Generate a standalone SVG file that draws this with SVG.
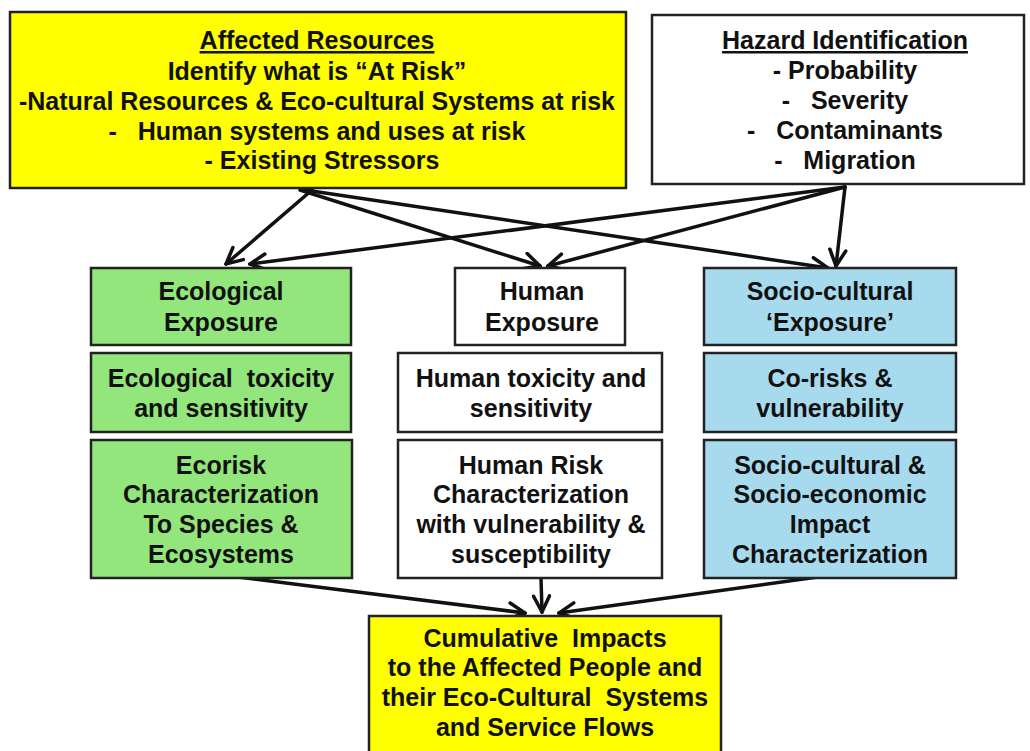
<svg xmlns="http://www.w3.org/2000/svg" width="1030" height="751" viewBox="0 0 1030 751">
<style>
  text { font-family: "Liberation Sans", Arial, sans-serif; font-weight: bold; font-size: 25px; fill: #111; text-anchor: middle; white-space: pre; }
  .box { stroke: #222; stroke-width: 2.5; }
  .yellow { fill: #FFFF00; }
  .white { fill: #FFFFFF; }
  .green { fill: #93E67B; }
  .blue { fill: url(#dots); }
  .conn { stroke: #111; stroke-width: 3.5; fill: none; marker-end: url(#chev); stroke-linecap: round; }
</style>
<defs>
  <pattern id="dots" width="4" height="4" patternUnits="userSpaceOnUse">
    <rect width="4" height="4" fill="#AADCF0"/>
    <circle cx="1" cy="1" r="0.6" fill="#8DC6DE"/>
    <circle cx="3" cy="3" r="0.6" fill="#9ED2E8"/>
  </pattern>
  <marker id="chev" viewBox="0 0 20 20" refX="18" refY="10" markerWidth="20" markerHeight="20" markerUnits="userSpaceOnUse" orient="auto">
    <path d="M2,2 L18,10 L2,18" fill="none" stroke="#111" stroke-width="3.5" stroke-linecap="round" stroke-linejoin="miter"/>
  </marker>
</defs>
<rect width="1030" height="751" fill="#FFFFFF"/>

<g id="connectors">
  <path class="conn" d="M312,190 L226,264"/>
  <path class="conn" d="M300,190 L540,266"/>
  <path class="conn" d="M305,190 L828,268"/>
  <path class="conn" d="M845,187 L250,264"/>
  <path class="conn" d="M845,187 L548,266"/>
  <path class="conn" d="M845,187 L836,266"/>
  <path class="conn" d="M230,576 L525,613"/>
  <path class="conn" d="M541,578 L542,612"/>
  <path class="conn" d="M825,576 L559,613"/>
</g>

<g id="affected-resources">
  <rect class="box yellow" x="10" y="12" width="616" height="176"/>
  <text x="317" y="49" text-decoration="underline">Affected Resources</text>
  <text x="317" y="80">Identify what is “At Risk”</text>
  <text x="317" y="110">-Natural Resources &amp; Eco-cultural Systems at risk</text>
  <text x="317" y="140">-   Human systems and uses at risk</text>
  <text x="322" y="169">- Existing Stressors</text>
</g>

<g id="hazard-identification">
  <rect class="box white" x="652" y="15" width="372" height="169"/>
  <text x="845" y="49" text-decoration="underline">Hazard Identification</text>
  <text x="845" y="79">- Probability</text>
  <text x="845" y="109">-   Severity</text>
  <text x="845" y="139">-   Contaminants</text>
  <text x="845" y="169">-   Migration</text>
</g>

<g id="ecological-exposure">
  <rect class="box green" x="91" y="268" width="260" height="77"/>
  <text x="221" y="300">Ecological</text>
  <text x="221" y="331">Exposure</text>
</g>
<g id="ecological-toxicity">
  <rect class="box green" x="91" y="353" width="260" height="79"/>
  <text x="221" y="387">Ecological  toxicity</text>
  <text x="221" y="417">and sensitivity</text>
</g>
<g id="ecorisk">
  <rect class="box green" x="91" y="440" width="261" height="138"/>
  <text x="221" y="474">Ecorisk</text>
  <text x="221" y="503">Characterization</text>
  <text x="221" y="533">To Species &amp;</text>
  <text x="221" y="563">Ecosystems</text>
</g>

<g id="human-exposure">
  <rect class="box white" x="455" y="268" width="170" height="77"/>
  <text x="542" y="300">Human</text>
  <text x="542" y="331">Exposure</text>
</g>
<g id="human-toxicity">
  <rect class="box white" x="398" y="353" width="264" height="79"/>
  <text x="531" y="387">Human toxicity and</text>
  <text x="531" y="417">sensitivity</text>
</g>
<g id="human-risk">
  <rect class="box white" x="398" y="440" width="264" height="138"/>
  <text x="531" y="474">Human Risk</text>
  <text x="531" y="503">Characterization</text>
  <text x="531" y="533">with vulnerability &amp;</text>
  <text x="531" y="563">susceptibility</text>
</g>

<g id="sociocultural-exposure">
  <rect class="box blue" x="704" y="268" width="252" height="77"/>
  <text x="830" y="300">Socio-cultural</text>
  <text x="830" y="331">‘Exposure’</text>
</g>
<g id="co-risks">
  <rect class="box blue" x="704" y="353" width="252" height="79"/>
  <text x="830" y="387">Co-risks &amp;</text>
  <text x="830" y="417">vulnerability</text>
</g>
<g id="socio-impact">
  <rect class="box blue" x="704" y="440" width="252" height="138"/>
  <text x="830" y="474">Socio-cultural &amp;</text>
  <text x="830" y="503">Socio-economic</text>
  <text x="830" y="533">Impact</text>
  <text x="830" y="563">Characterization</text>
</g>

<g id="cumulative-impacts">
  <rect class="box yellow" x="369" y="616" width="352" height="150"/>
  <text x="545" y="647">Cumulative  Impacts</text>
  <text x="545" y="676">to the Affected People and</text>
  <text x="545" y="706">their Eco-Cultural  Systems</text>
  <text x="545" y="736">and Service Flows</text>
</g>
</svg>
